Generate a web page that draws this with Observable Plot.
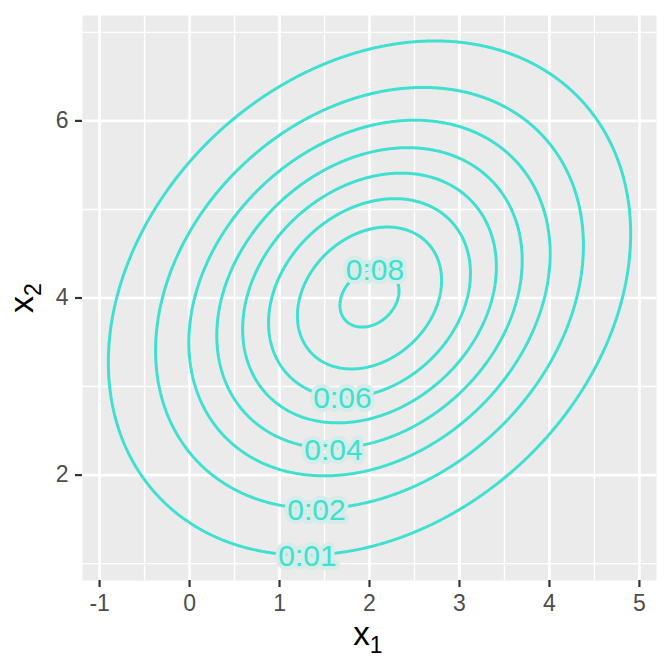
<!DOCTYPE html>
<html>
<head>
<meta charset="utf-8">
<script src="https://cdn.jsdelivr.net/npm/d3@7"></script>
<script src="https://cdn.jsdelivr.net/npm/@observablehq/plot@0.6"></script>
<style>
  html, body { margin: 0; padding: 0; background: #ffffff; }
  #chart { width: 672px; height: 672px; }
</style>
</head>
<body>
<div id="chart"></div>
<script>
// Bivariate normal parameters
const mean = [2, 4];
const cov = [[2, 0.5], [0.5, 2]];
// contour levels
const levels = [0.01, 0.02, 0.03, 0.04, 0.05, 0.06, 0.07, 0.08];
// labelled contours and label anchors (data units)
const labelLevels = [0.01, 0.02, 0.04, 0.06, 0.08];
const labelX = [1.31, 1.41, 1.60, 1.70, 2.06];
const labelY = [1.08, 1.60, 2.28, 2.87, 4.31];
// ticks
const xTicks = [-1, 0, 1, 2, 3, 4, 5];
const yTicks = [2, 4, 6];
const xMinor = [-0.5, 0.5, 1.5, 2.5, 3.5, 4.5];
const yMinor = [1, 3, 5, 7];

const det = cov[0][0] * cov[1][1] - cov[0][1] * cov[1][0];
const inv = [[cov[1][1] / det, -cov[0][1] / det], [-cov[1][0] / det, cov[0][0] / det]];
const density = (x, y) => {
  const dx = x - mean[0], dy = y - mean[1];
  const q = inv[0][0] * dx * dx + (inv[0][1] + inv[1][0]) * dx * dy + inv[1][1] * dy * dy;
  return Math.exp(-q / 2) / (2 * Math.PI * Math.sqrt(det));
};

const labels = labelLevels.map((v, i) => ({level: v, x: labelX[i], y: labelY[i]}));
const fmt = v => v.toFixed(2).replace(".", ":");

const xDomain = [-1.19, 5.19];
const yDomain = [0.81, 7.19];
const teal = "#40E0D0";
const font = "'Liberation Sans', Arial, Helvetica, sans-serif";

const plot = Plot.plot({
  width: 672,
  height: 672,
  marginLeft: 82,
  marginRight: 16,
  marginTop: 15,
  marginBottom: 92,
  style: {fontFamily: font, background: "#ffffff"},
  x: {domain: xDomain},
  y: {domain: yDomain},
  marks: [
    Plot.frame({fill: "#ebebeb", stroke: "none"}),
    Plot.gridX(xMinor, {stroke: "#ffffff", strokeOpacity: 1, strokeWidth: 1.4}),
    Plot.gridY(yMinor, {stroke: "#ffffff", strokeOpacity: 1, strokeWidth: 1.4}),
    Plot.gridX(xTicks, {stroke: "#ffffff", strokeOpacity: 1, strokeWidth: 2.7}),
    Plot.gridY(yTicks, {stroke: "#ffffff", strokeOpacity: 1, strokeWidth: 2.7}),
    Plot.contour({
      value: density,
      x1: xDomain[0], x2: xDomain[1], y1: yDomain[0], y2: yDomain[1],
      thresholds: levels,
      pixelSize: 1,
      fill: "none",
      stroke: teal,
      strokeWidth: 3
    }),
    Plot.text(labels, {
      x: "x", y: "y", text: d => fmt(d.level),
      fill: teal, stroke: "#d6ece9", strokeWidth: 8, strokeLinejoin: "round",
      fontSize: 30, fontFamily: font
    }),
    Plot.axisX(xTicks, {
      tickSize: 7, tickPadding: 7, fontSize: 23, tickFormat: d => String(d),
      label: null, stroke: "#333333", strokeWidth: 2.2, fill: "#4d4d4d", fontFamily: font
    }),
    Plot.axisY(yTicks, {
      tickSize: 7, tickPadding: 7, fontSize: 23, tickFormat: d => String(d),
      label: null, stroke: "#333333", strokeWidth: 2.2, fill: "#4d4d4d", fontFamily: font
    })
  ]
});

document.getElementById("chart").appendChild(plot);

const svg = d3.select(plot);
// x axis title with subscript
const xt = svg.append("text")
  .attr("x", 368).attr("y", 645)
  .attr("text-anchor", "middle")
  .attr("font-family", font).attr("font-size", 33).attr("fill", "#000000");
xt.append("tspan").text("x");
xt.append("tspan").attr("font-size", 23).attr("dy", 8).text("1");

// y axis title with subscript (rotated)
const yt = svg.append("text")
  .attr("transform", "translate(33,298) rotate(-90)")
  .attr("text-anchor", "middle")
  .attr("font-family", font).attr("font-size", 34).attr("fill", "#000000");
yt.append("tspan").text("x");
yt.append("tspan").attr("font-size", 23).attr("dy", 8).text("2");
</script>
</body>
</html>
